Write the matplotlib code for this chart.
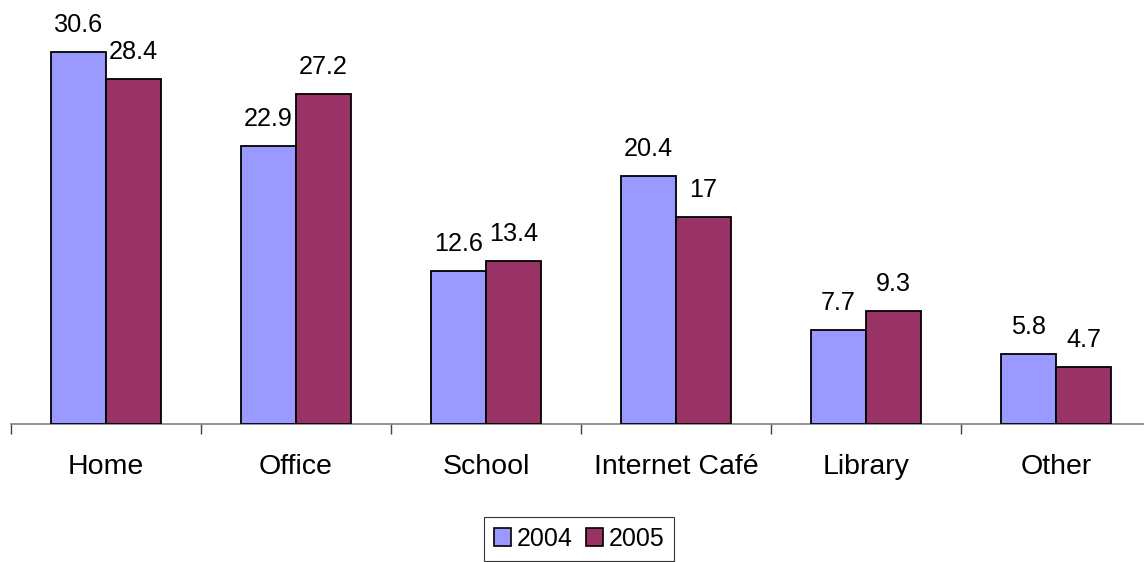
import matplotlib.pyplot as plt
import numpy as np
from matplotlib.patches import Patch

plt.rcParams["font.family"] = ["Liberation Sans", "DejaVu Sans"]

categories = ["Home", "Office", "School", "Internet Café", "Library", "Other"]
values_2004 = [30.6, 22.9, 12.6, 20.4, 7.7, 5.8]
values_2005 = [28.4, 27.2, 13.4, 17, 9.3, 4.7]
series_names = ["2004", "2005"]

COLOR_2004 = "#9999FF"
COLOR_2005 = "#993366"
AXIS_GRAY = "#808080"

fig = plt.figure(figsize=(11.44, 5.62), dpi=100)
# axes spans from the first tick to one category past the right edge
ax = fig.add_axes([11 / 1144, 138 / 562, 1140 / 1144, 424 / 562])

x = np.arange(len(categories))
width = 0.29
bars_a = ax.bar(x - width / 2, values_2004, width, color=COLOR_2004,
                edgecolor="black", linewidth=1.3, zorder=3)
bars_b = ax.bar(x + width / 2, values_2005, width, color=COLOR_2005,
                edgecolor="black", linewidth=1.3, zorder=3)

for bars, vals in ((bars_a, values_2004), (bars_b, values_2005)):
    for rect, v in zip(bars, vals):
        ax.annotate(f"{v:g}", xy=(rect.get_x() + rect.get_width() / 2, v),
                    xytext=(0, 14.4), textcoords="offset points",
                    ha="center", va="baseline", fontsize=18.2, clip_on=False)

ax.set_xlim(-0.5, len(categories) - 0.5)
ax.set_ylim(0, 424 / 12.15)

for side in ("left", "right", "top"):
    ax.spines[side].set_visible(False)
ax.spines["bottom"].set_color(AXIS_GRAY)
ax.spines["bottom"].set_linewidth(1.2)
ax.yaxis.set_visible(False)

# category boundaries carry the tick marks, names sit in between
ax.set_xticks(np.arange(len(categories) + 1) - 0.5)
ax.set_xticklabels([])
ax.set_xticks(x, minor=True)
ax.set_xticklabels(categories, minor=True, fontsize=20.5)
ax.tick_params(axis="x", which="major", direction="out", length=7.2,
               width=1.0, color="#444444")
ax.tick_params(axis="x", which="minor", length=0, pad=21.5)

handles = [Patch(facecolor=COLOR_2004, edgecolor="black", linewidth=1.2),
           Patch(facecolor=COLOR_2005, edgecolor="black", linewidth=1.2)]
leg = fig.legend(handles, series_names, loc="center",
                 bbox_to_anchor=(579 / 1144, 23.5 / 562), ncol=2,
                 fontsize=18, frameon=True, fancybox=False, shadow=False,
                 handlelength=0.7, handleheight=0.7, handletextpad=0.2,
                 columnspacing=0.55, borderpad=0.4, borderaxespad=0)
leg.get_frame().set_edgecolor("black")
leg.get_frame().set_linewidth(0.8)

fig.savefig("out.png", dpi=100)
